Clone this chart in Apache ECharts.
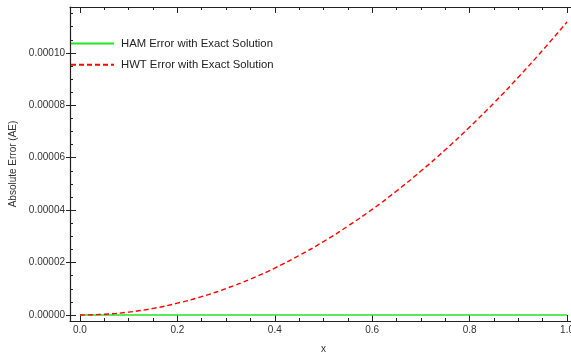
<!DOCTYPE html>
<html>
<head>
<meta charset="utf-8">
<script src="https://cdn.jsdelivr.net/npm/echarts@6/dist/echarts.min.js"></script>
<style>
html,body{margin:0;padding:0;background:#fff;}
#c{width:571px;height:355px;}
</style>
</head>
<body>
<div id="c"></div>
<script>
// ---- data ----
var xValues = [0, 0.05, 0.1, 0.15, 0.2, 0.25, 0.3, 0.35, 0.4, 0.45, 0.5, 0.55, 0.6, 0.65, 0.7, 0.75, 0.8, 0.85, 0.9, 0.95, 1.0];
var hamError = [0, 0, 0, 0, 0, 0, 0, 0, 0, 0, 0, 0, 0, 0, 0, 0, 0, 0, 0, 0, 0];
var hwtError = [0, 0.00000028, 0.0000011, 0.0000025, 0.0000045, 0.000007, 0.0000101, 0.0000137, 0.0000179, 0.0000227, 0.000028, 0.0000339, 0.0000403, 0.0000473, 0.0000549, 0.000063, 0.0000717, 0.0000809, 0.0000907, 0.000101, 0.0001118];
var seriesNames = ['HAM Error with Exact Solution', 'HWT Error with Exact Solution'];
var xMajorTicks = [0, 0.2, 0.4, 0.6, 0.8, 1.0];
var xMinorTicks = [0.05, 0.1, 0.15, 0.25, 0.3, 0.35, 0.45, 0.5, 0.55, 0.65, 0.7, 0.75, 0.85, 0.9, 0.95];
var yMajorTicks = [0, 0.00002, 0.00004, 0.00006, 0.00008, 0.0001];
var yMinorTicks = [0.000005, 0.00001, 0.000015, 0.000025, 0.00003, 0.000035, 0.000045, 0.00005, 0.000055, 0.000065, 0.00007, 0.000075, 0.000085, 0.00009, 0.000095, 0.000105, 0.00011, 0.000115];
var xRange = [-0.0205, 1.0205];
var yRange = [-0.0000023, 0.0001175];
var xTitle = 'x';
var yTitle = 'Absolute Error (AE)';

var FONT = 'Liberation Sans, Arial, sans-serif';
var AX = '#222';

function pairs(xs, ys) { return xs.map(function (x, i) { return [x, ys[i]]; }); }

function xAx(pos, show, ticks, len, labels) {
  return {
    type: 'value', position: pos, min: xRange[0], max: xRange[1],
    axisLine: { show: show, onZero: false, lineStyle: { color: AX, width: 1.2 } },
    axisTick: { show: true, inside: true, length: len, customValues: ticks, lineStyle: { color: AX, width: 1 } },
    axisLabel: labels ? { show: true, customValues: ticks, margin: 4, color: '#333', fontSize: 10, fontFamily: FONT,
      formatter: function (v) { return v.toFixed(1); } } : { show: false },
    splitLine: { show: false }
  };
}
function yAx(pos, show, ticks, len, inside, labels) {
  return {
    type: 'value', position: pos, min: yRange[0], max: yRange[1],
    axisLine: { show: show, onZero: false, lineStyle: { color: AX, width: 1.2 } },
    axisTick: { show: true, inside: inside, length: len, customValues: ticks, lineStyle: { color: AX, width: 1 } },
    axisLabel: labels ? { show: true, customValues: ticks, margin: 5, color: '#333', fontSize: 10, fontFamily: FONT,
      formatter: function (v) { return v.toFixed(5); } } : { show: false },
    splitLine: { show: false }
  };
}

var xA0 = xAx('bottom', true, xMajorTicks, 6, true);
xA0.name = xTitle; xA0.nameLocation = 'middle'; xA0.nameGap = 23;
xA0.nameTextStyle = { color: '#333', fontSize: 10, fontFamily: FONT };
var yA0 = yAx('left', true, yMajorTicks, 6, true, true);
yA0.name = yTitle; yA0.nameLocation = 'middle'; yA0.nameGap = 48;
yA0.nameTextStyle = { color: '#333', fontSize: 10, fontFamily: FONT };

var chart = echarts.init(document.getElementById('c'), null, { renderer: 'canvas' });
chart.setOption({
  animation: false,
  backgroundColor: '#fff',
  grid: { left: 70, top: 7, width: 507, bottom: 34, containLabel: false, outerBoundsMode: 'none' },
  legend: {
    left: 70, top: 38, orient: 'vertical', padding: 0,
    itemWidth: 43, itemHeight: 14, itemGap: 10,
    itemStyle: { opacity: 0 },
    textStyle: { fontSize: 11.3, fontFamily: FONT, color: '#222', padding: [0, 0, 0, 2] },
    data: seriesNames
  },
  xAxis: [
    xA0,
    xAx('bottom', false, xMinorTicks, 3, false),
    xAx('top', true, xMajorTicks, 6, false),
    xAx('top', false, xMinorTicks, 3, false)
  ],
  yAxis: [
    yA0,
    yAx('left', false, yMinorTicks, 3, true, false),
    yAx('left', false, yMajorTicks, 4, false, false),
    yAx('right', true, [], 3, true, false)
  ],
  series: [
    {
      name: seriesNames[0], type: 'line', xAxisIndex: 0, yAxisIndex: 0,
      data: pairs(xValues, hamError), showSymbol: false, symbol: 'none',
      lineStyle: { color: '#22e822', width: 1.6 }, itemStyle: { color: '#22e822' }, z: 3
    },
    {
      name: seriesNames[1], type: 'line', xAxisIndex: 0, yAxisIndex: 0, smooth: true,
      data: pairs(xValues, hwtError), showSymbol: false, symbol: 'none',
      lineStyle: { color: '#ff0000', width: 1.4, type: [5, 3] }, itemStyle: { color: '#ff0000' }, z: 4
    }
  ]
});
</script>
</body>
</html>
